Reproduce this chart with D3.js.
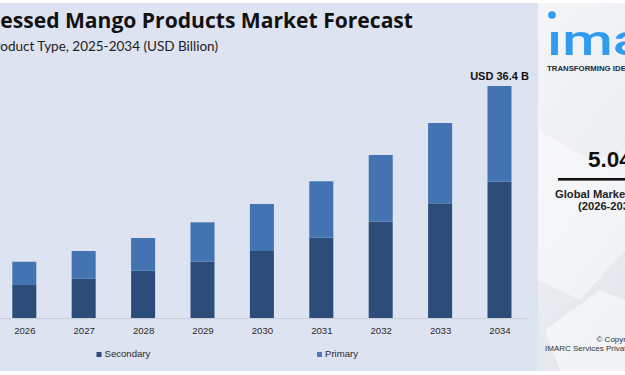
<!DOCTYPE html>
<html lang="en">
<head>
<meta charset="utf-8">
<title>Mango Products Forecast</title>
<script src="https://d3js.org/d3.v7.min.js"></script>
<style>
  html, body { margin: 0; padding: 0; background: #ffffff; }
  svg { display: block; }
</style>
</head>
<body>
<div id="chart"></div>
<script>
// data (USD Billion)
const years = ["2026", "2027", "2028", "2029", "2030", "2031", "2032", "2033", "2034"];
const secondary = [5.18, 6.17, 7.42, 8.83, 10.51, 12.6, 15.11, 17.99, 21.38];
const primary = [3.65, 4.34, 5.13, 6.18, 7.38, 8.85, 10.46, 12.6, 15.02];
const seriesNames = ["Secondary", "Primary"];
const seriesColors = ["#2c4d79", "#4373b1"];

const W = 625, H = 375;
const svg = d3.select("#chart").append("svg")
  .attr("width", W).attr("height", H);

// chart background
svg.append("rect")
  .attr("x", 0).attr("y", 3).attr("width", 538).attr("height", 368)
  .attr("fill", "#dde3f1");

// right panel
const defs = svg.append("defs");
const grad = defs.append("linearGradient").attr("id", "panelGrad")
  .attr("x1", "0").attr("y1", "0").attr("x2", "0.3").attr("y2", "1");
grad.append("stop").attr("offset", "0%").attr("stop-color", "#f4f5f7");
grad.append("stop").attr("offset", "60%").attr("stop-color", "#eceef2");
grad.append("stop").attr("offset", "100%").attr("stop-color", "#e4e7ec");

const panel = svg.append("g");
panel.append("rect")
  .attr("x", 538).attr("y", 3).attr("width", 87).attr("height", 368)
  .attr("fill", "url(#panelGrad)");
// faint shapes in the panel
panel.append("path")
  .attr("d", "M538,130 L590,160 L625,150 L625,250 L580,300 L538,280 Z")
  .attr("fill", "#ffffff").attr("opacity", 0.45);
panel.append("path")
  .attr("d", "M545,330 L600,290 L625,300 L625,371 L560,371 Z")
  .attr("fill", "#ffffff").attr("opacity", 0.5);

const sans = "'Liberation Sans', Arial, sans-serif";

// logo
panel.append("circle").attr("cx", 552).attr("cy", 15).attr("r", 3.8).attr("fill", "#2f9cf0");
panel.append("text")
  .attr("transform", "translate(547,55) scale(1.35,1)")
  .attr("font-family", "Roboto, 'Open Sans', sans-serif")
  .attr("font-weight", 500)
  .attr("font-size", 43)
  .attr("fill", "#2f9cf0")
  .text("\u0131marc");
panel.append("text")
  .attr("x", 547).attr("y", 70.5)
  .attr("font-family", sans)
  .attr("font-weight", "bold")
  .attr("font-size", 7.8)
  .attr("fill", "#1d2a3c")
  .text("TRANSFORMING IDEAS INTO IMPACT");

panel.append("text")
  .attr("x", 588).attr("y", 166.5)
  .attr("font-family", sans)
  .attr("font-weight", "bold")
  .attr("font-size", 22.5)
  .attr("fill", "#111")
  .text("5.04%");
panel.append("rect")
  .attr("x", 558).attr("y", 178).attr("width", 70).attr("height", 2.6)
  .attr("fill", "#111");
panel.append("text")
  .attr("x", 555).attr("y", 197.5)
  .attr("font-family", sans)
  .attr("font-weight", "bold")
  .attr("font-size", 11.2)
  .attr("fill", "#222")
  .text("Global Market Growth Rate");
panel.append("text")
  .attr("x", 578).attr("y", 209.5)
  .attr("font-family", sans)
  .attr("font-weight", "bold")
  .attr("font-size", 11.2)
  .attr("fill", "#222")
  .text("(2026-2034)");
panel.append("text")
  .attr("x", 596.5).attr("y", 342)
  .attr("font-family", sans)
  .attr("font-size", 8)
  .attr("fill", "#333")
  .text("\u00a9 Copyright");
panel.append("text")
  .attr("x", 545).attr("y", 350.5)
  .attr("font-family", sans)
  .attr("font-size", 8)
  .attr("fill", "#333")
  .text("IMARC Services Private Limited");

// titles (the picture is cropped on the left): fit so the visible part spans 0..413
const titleFont = "'Open Sans', Lato, sans-serif";
const title = svg.append("text")
  .attr("x", 413).attr("y", 27.5)
  .attr("text-anchor", "end")
  .attr("font-family", titleFont)
  .attr("font-weight", "bold")
  .attr("font-size", 20)
  .attr("fill", "#111")
  .text("Processed Mango Products Market Forecast");
const probe = svg.append("text")
  .attr("font-family", titleFont)
  .attr("font-weight", "bold")
  .attr("font-size", 20)
  .text("essed Mango Products Market Forecast");
const visW = probe.node().getComputedTextLength();
probe.remove();
title.attr("font-size", 20 * 413 / visW);

svg.append("text")
  .attr("x", 218).attr("y", 50.5)
  .attr("text-anchor", "end")
  .attr("font-family", "Lato, 'Open Sans', sans-serif")
  .attr("font-size", 13.5)
  .attr("fill", "#222")
  .text("By Product Type, 2025-2034 (USD Billion)");

// scales
const x = d3.scalePoint().domain(years).range([24.3, 499.5]);
const barW = 24;
const y = d3.scaleLinear().domain([0, 36.4]).range([318, 86]);

const stackData = years.map((yr, i) => ({ year: yr, Secondary: secondary[i], Primary: primary[i] }));
const stacked = d3.stack().keys(seriesNames)(stackData);

// baseline
svg.append("line")
  .attr("x1", 0).attr("x2", 527)
  .attr("y1", y(0) + 0.5).attr("y2", y(0) + 0.5)
  .attr("stroke", "#c9cfdb").attr("stroke-width", 1);

svg.append("g").selectAll("g")
  .data(stacked)
  .join("g")
  .attr("fill", (d, i) => seriesColors[i])
  .selectAll("rect")
  .data(d => d)
  .join("rect")
  .attr("x", d => x(d.data.year) - barW / 2)
  .attr("y", d => y(d[1]))
  .attr("width", barW)
  .attr("height", d => y(d[0]) - y(d[1]));

// x axis labels
const xAxis = svg.append("g")
  .attr("transform", `translate(0, ${y(0)})`)
  .call(d3.axisBottom(x).tickSize(0).tickPadding(9));
xAxis.select(".domain").remove();
xAxis.selectAll("text")
  .attr("font-family", sans)
  .attr("font-size", 9.6)
  .attr("fill", "#2a2a2a");

// total label on last bar
const lastI = years.length - 1;
svg.append("text")
  .attr("x", x(years[lastI])).attr("y", 79.5)
  .attr("text-anchor", "middle")
  .attr("font-family", sans)
  .attr("font-weight", "bold")
  .attr("font-size", 11)
  .attr("fill", "#111")
  .text(`USD ${(secondary[lastI] + primary[lastI]).toFixed(1)} B`);

// legend
const legendX = [96.5, 317];
const legend = svg.append("g").selectAll("g")
  .data(seriesNames)
  .join("g")
  .attr("transform", (d, i) => `translate(${legendX[i]}, 352)`);
legend.append("rect")
  .attr("width", 5).attr("height", 5)
  .attr("fill", (d, i) => i === 0 ? "#2c4d79" : "#4a7bbd");
legend.append("text")
  .attr("x", 8).attr("y", 5.3)
  .attr("font-family", sans)
  .attr("font-size", 9.6)
  .attr("fill", "#2a2a2a")
  .text(d => d);
</script>
</body>
</html>
